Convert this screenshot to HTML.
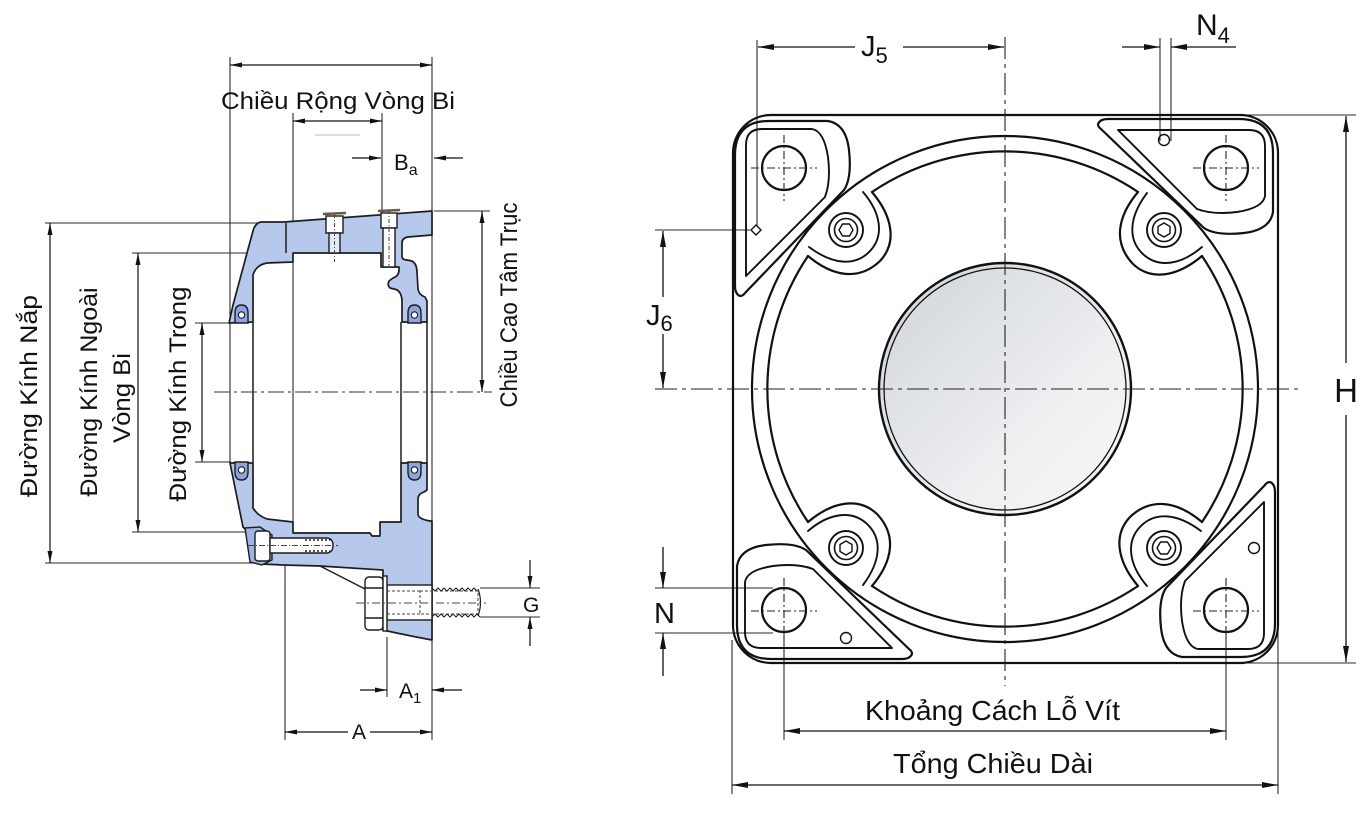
<!DOCTYPE html>
<html><head><meta charset="utf-8"><style>
html,body{margin:0;padding:0;background:#fff}
svg{display:block}
text{font-family:"Liberation Sans","DejaVu Sans",sans-serif;fill:#111}
</style></head><body>
<svg width="1370" height="822" viewBox="0 0 1370 822" xmlns="http://www.w3.org/2000/svg">
<defs>
<marker id="ab" viewBox="0 0 16 6" refX="16" refY="3" markerWidth="16" markerHeight="6" markerUnits="userSpaceOnUse" orient="auto-start-reverse"><path d="M0,0 L16,3 L0,6 Z" fill="#111"/></marker>
<marker id="as" viewBox="0 0 12 5" refX="12" refY="2.5" markerWidth="12" markerHeight="5" markerUnits="userSpaceOnUse" orient="auto-start-reverse"><path d="M0,0 L12,2.5 L0,5 Z" fill="#111"/></marker>
<linearGradient id="bore" x1="0" y1="0" x2="1" y2="1"><stop offset="0" stop-color="#cfd4da"/><stop offset="0.6" stop-color="#eceef0"/><stop offset="1" stop-color="#f7f8f9"/></linearGradient>
</defs>

<!-- ================= LEFT SECTION VIEW ================= -->
<g fill="none" stroke="#2a2a2a" stroke-width="1.1">
  <!-- extension lines -->
  <line x1="230" y1="57" x2="230" y2="463"/>
  <line x1="432" y1="57" x2="432" y2="740"/>
  <line x1="293" y1="113" x2="293" y2="533"/>
  <line x1="382" y1="113" x2="382" y2="213"/>
  <line x1="45" y1="223" x2="259" y2="223"/>
  <line x1="132" y1="253" x2="293" y2="253"/>
  <line x1="195" y1="323" x2="231" y2="323"/>
  <line x1="195" y1="462" x2="231" y2="462"/>
  <line x1="132" y1="532" x2="293" y2="532"/>
  <line x1="45" y1="563" x2="253" y2="563"/>
  <line x1="434" y1="211" x2="490" y2="211"/>
  <line x1="285" y1="566" x2="285" y2="740"/>
  <line x1="387" y1="637" x2="387" y2="697"/>
  <line x1="480" y1="588" x2="540" y2="588"/>
  <line x1="480" y1="617" x2="540" y2="617"/>
  <line x1="315" y1="135" x2="360" y2="135" stroke="#bbb"/>
</g>
<!-- left dimension lines -->
<g stroke="#111" stroke-width="1.2" fill="none">
  <line x1="230" y1="65" x2="432" y2="65" marker-start="url(#as)" marker-end="url(#as)"/>
  <line x1="293" y1="121" x2="382" y2="121" marker-start="url(#as)" marker-end="url(#as)"/>
  <line x1="352" y1="158" x2="381" y2="158" marker-end="url(#as)"/>
  <line x1="463" y1="158" x2="434" y2="158" marker-end="url(#as)"/>
  <line x1="50" y1="223" x2="50" y2="563" marker-start="url(#as)" marker-end="url(#as)"/>
  <line x1="138" y1="253" x2="138" y2="532" marker-start="url(#as)" marker-end="url(#as)"/>
  <line x1="202" y1="323" x2="202" y2="462" marker-start="url(#as)" marker-end="url(#as)"/>
  <line x1="482" y1="211" x2="482" y2="392" marker-start="url(#as)" marker-end="url(#as)"/>
  <line x1="530" y1="560" x2="530" y2="588" marker-end="url(#as)"/>
  <line x1="530" y1="646" x2="530" y2="617" marker-end="url(#as)"/>
  <line x1="360" y1="690" x2="387" y2="690" marker-end="url(#as)"/>
  <line x1="462" y1="690" x2="432" y2="690" marker-end="url(#as)"/>
  <line x1="348" y1="732" x2="285" y2="732" marker-end="url(#as)"/>
  <line x1="370" y1="732" x2="432" y2="732" marker-end="url(#as)"/>
</g>

<!-- housing -->
<g stroke="#1d1d1d" stroke-width="1.7" stroke-linejoin="round">
  <path fill="#b6c8ec" d="M229,323 L233,305 L247,253 L253,231 Q255,223 261,222 L284,222 L432,211 L432,235 L408,237 Q402,238 402,243 L402,256 Q402,260 407,260 L412,261 Q417,264 417,272 L418,289 Q419,295 425,297 L427,301 L427,322 L402,322 L402,300 Q401,290 394,289 L390,288 Q387,285 389,281 L393,278 Q399,276 399,270 L399,267 L381,267 L381,253 L293,253 L293,262 L267,263 Q256,265 253,275 L253,322 Z"/>
  <path fill="#b6c8ec" d="M253,463 L230,463 L243,527 L250,534 L252,559 Q255,564 262,564 L283,565 L320,566 L383,570 L383,630 Q405,635 432,640 L432,521 L430,521 Q418,519 418,514 L418,499 Q418,494 424,492 L427,490 L427,463 L401,463 L401,522 L380,522 L380,536 L372,536 L370,533 L293,533 L293,522 L267,519 Q258,516 253,508 Z"/>
</g>
<g stroke="#1d1d1d" stroke-width="1.5" fill="none">
  <line x1="286" y1="223" x2="286" y2="253"/>
  <line x1="253" y1="322" x2="253" y2="463"/>
  <line x1="401" y1="322" x2="401" y2="463"/>
  <line x1="427" y1="322" x2="427" y2="463"/>
  <line x1="320" y1="566" x2="367" y2="590"/>
</g>
<!-- grease holes -->
<g stroke="#1d1d1d" stroke-width="1.4">
  <rect x="326" y="216" width="17" height="17" fill="#fff"/>
  <rect x="329" y="233" width="11" height="20" fill="#e4eaf7"/>
  <rect x="381" y="213" width="16" height="15" fill="#fff"/>
  <rect x="383" y="228" width="12" height="39" fill="#fff"/>
  <line x1="323" y1="214" x2="346" y2="213" stroke="#6b5a48" stroke-width="2.5"/>
  <line x1="378" y1="211" x2="400" y2="210" stroke="#6b5a48" stroke-width="2.5"/>
</g>
<g stroke="#444" stroke-width="1" stroke-dasharray="4 2 1 2">
  <line x1="334.5" y1="214" x2="334.5" y2="262"/>
  <line x1="389" y1="210" x2="389" y2="270"/>
</g>
<!-- seals -->
<g stroke="#1d1d1d" stroke-width="1.4" fill="#8ca4e0">
  <path d="M235,323 L235,313 Q235,305 241.5,305 Q248,305 248,313 L248,323 Z"/>
  <path d="M408,323 L408,313 Q408,305 414.5,305 Q421,305 421,313 L421,323 Z"/>
  <path d="M235,462 L235,472 Q235,480 241.5,480 Q248,480 248,472 L248,462 Z"/>
  <path d="M408,462 L408,472 Q408,480 414.5,480 Q421,480 421,472 L421,462 Z"/>
</g>
<g fill="#fff" stroke="#1d1d1d" stroke-width="1.1">
  <circle cx="241.5" cy="315" r="3.2"/><circle cx="414.5" cy="315" r="3.2"/>
  <circle cx="241.5" cy="470" r="3.2"/><circle cx="414.5" cy="470" r="3.2"/>
</g>
<!-- cap screw -->
<g stroke="#1d1d1d" stroke-width="1.4">
  <path d="M245,528 L260,527 L272,535 L272,560 L262,565 L250,562 Z" fill="#9fb4e4"/>
  <rect x="255" y="531" width="15" height="30" rx="3" fill="#fff"/>
  <path d="M270,538 L326,538 Q333,538 333,545.5 Q333,553 326,553 L270,553 Z" fill="#fff"/>
  <line x1="305" y1="540" x2="330" y2="540" stroke-dasharray="2 2"/>
  <line x1="305" y1="551" x2="330" y2="551" stroke-dasharray="2 2"/>
</g>
<line x1="248" y1="545.5" x2="338" y2="545.5" stroke="#444" stroke-width="1" stroke-dasharray="6 2 1 2"/>
<!-- foot bolt -->
<g stroke="#1d1d1d" stroke-width="1.4">
  <rect x="387" y="585" width="45" height="35" fill="#fff"/>
  <rect x="365" y="577" width="18" height="53" rx="4" fill="#fff"/>
  <line x1="365" y1="588" x2="383" y2="588"/>
  <line x1="365" y1="618" x2="383" y2="618"/>
  <rect x="383" y="576" width="4" height="55" fill="#fff"/>
  <path d="M432,588 l3,3 l3,-3 l3,3 l3,-3 l3,3 l3,-3 l3,3 l3,-3 l3,3 l3,-3 l3,3 l3,-3 l3,3 l3,-3 l3,3 M432,617 l3,-3 l3,3 l3,-3 l3,3 l3,-3 l3,3 l3,-3 l3,3 l3,-3 l3,3 l3,-3 l3,3 l3,-3 l3,3 l3,-3 l3,3" fill="none" stroke-width="1"/>
  <path d="M478,589 Q483,602.5 478,616" fill="none" stroke-width="1.2"/>
</g>
<g stroke="#444" stroke-width="1" stroke-dasharray="3 2" fill="none">
  <rect x="420" y="591" width="58" height="23"/>
  <line x1="387" y1="591" x2="420" y2="591"/><line x1="387" y1="614" x2="420" y2="614"/>
</g>
<line x1="356" y1="603" x2="486" y2="603" stroke="#444" stroke-width="1" stroke-dasharray="8 3 2 3"/>
<!-- centerline left -->
<line x1="214" y1="392" x2="492" y2="392" stroke="#333" stroke-width="1.1" stroke-dasharray="16 4 3 4"/>

<!-- left labels -->
<text x="221" y="109" font-size="24" textLength="234" lengthAdjust="spacingAndGlyphs">Chiều Rộng Vòng Bi</text>
<text x="394" y="170" font-size="22">B<tspan font-size="16" dy="5">a</tspan></text>
<text transform="translate(37,396) rotate(-90)" text-anchor="middle" font-size="24" textLength="202" lengthAdjust="spacingAndGlyphs">Đường Kính Nắp</text>
<text transform="translate(97,392) rotate(-90)" text-anchor="middle" font-size="24" textLength="209" lengthAdjust="spacingAndGlyphs">Đường Kính Ngoài</text>
<text transform="translate(130,398) rotate(-90)" text-anchor="middle" font-size="24" textLength="90" lengthAdjust="spacingAndGlyphs">Vòng Bi</text>
<text transform="translate(186,394) rotate(-90)" text-anchor="middle" font-size="24" textLength="215" lengthAdjust="spacingAndGlyphs">Đường Kính Trong</text>
<text transform="translate(517,305) rotate(-90)" text-anchor="middle" font-size="24" textLength="205" lengthAdjust="spacingAndGlyphs">Chiều Cao Tâm Trục</text>
<text x="523" y="612" font-size="21">G</text>
<text x="399" y="698" font-size="21">A<tspan font-size="15" dy="5">1</tspan></text>
<text x="352" y="739" font-size="21">A</text>

<!-- ================= RIGHT FRONT VIEW ================= -->
<g fill="none" stroke="#2a2a2a" stroke-width="1.1">
  <line x1="757" y1="40" x2="757" y2="226"/>
  <line x1="655" y1="230" x2="750" y2="230"/>
  <line x1="1160" y1="38" x2="1160" y2="141"/>
  <line x1="1171" y1="38" x2="1171" y2="141"/>
  <line x1="1247" y1="115" x2="1356" y2="115"/>
  <line x1="1247" y1="663" x2="1356" y2="663"/>
  <line x1="655" y1="588" x2="773" y2="588"/>
  <line x1="655" y1="633" x2="773" y2="633"/>
  <line x1="784" y1="633" x2="784" y2="740"/>
  <line x1="1226" y1="633" x2="1226" y2="740"/>
  <line x1="732" y1="640" x2="732" y2="794"/>
  <line x1="1278" y1="630" x2="1278" y2="794"/>
</g>
<g stroke="#111" stroke-width="1.3" fill="none">
  <line x1="855" y1="47" x2="758" y2="47" marker-end="url(#ab)"/>
  <line x1="903" y1="47" x2="1004" y2="47" marker-end="url(#ab)"/>
  <line x1="1122" y1="47" x2="1160" y2="47" marker-end="url(#ab)"/>
  <line x1="1236" y1="47" x2="1171" y2="47" marker-end="url(#ab)"/>
  <line x1="663" y1="297" x2="663" y2="231" marker-end="url(#ab)"/>
  <line x1="663" y1="334" x2="663" y2="388" marker-end="url(#ab)"/>
  <line x1="663" y1="547" x2="663" y2="588" marker-end="url(#ab)"/>
  <line x1="663" y1="676" x2="663" y2="633" marker-end="url(#ab)"/>
  <line x1="1346" y1="363" x2="1346" y2="116" marker-end="url(#ab)"/>
  <line x1="1346" y1="415" x2="1346" y2="662" marker-end="url(#ab)"/>
  <line x1="784" y1="731" x2="1226" y2="731" marker-start="url(#ab)" marker-end="url(#ab)"/>
  <line x1="732" y1="785" x2="1278" y2="785" marker-start="url(#ab)" marker-end="url(#ab)"/>
</g>

<g transform="translate(1005,389)" fill="none" stroke="#111" stroke-width="2.2" stroke-linejoin="round" stroke-linecap="round">
  <rect x="-272" y="-274" width="545" height="548" rx="38"/>
  <circle r="253"/>
  <circle r="126" fill="url(#bore)" stroke-width="2.4"/>
  <circle r="121" stroke-width="1.3"/>

  <g id="k0">
    <path d="M-133,-197 A238,238 0 0 1 133,-197"/>
    <path d="M-133,-197 C-112,-172 -108,-146 -125,-128 C-146,-108 -172,-112 -197,-133"/>
    <path d="M-142,-197 C-124,-176 -121,-154 -134,-139 C-149,-122 -172,-124 -196,-142" stroke-width="1.9"/>
    <circle cx="-159" cy="-159" r="17" stroke-width="1.9"/>
    <circle cx="-159" cy="-159" r="11.5" stroke-width="1.6"/>
    <polygon points="-152,-159 -155.5,-153 -162.5,-153 -166,-159 -162.5,-165 -155.5,-165" stroke-width="1.4"/>
    <path d="M-265,-93 Q-270,-95 -270,-103 L-270,-234 Q-270,-268 -236,-268 L-177,-268 Q-159,-265 -156,-239 Q-153,-211 -161,-199 L-260,-96 Q-262,-93 -265,-93 Z"/>
    <path d="M-259,-113 L-259,-244 Q-259,-260 -243,-260 L-193,-260 Q-181,-258 -177,-232 Q-174,-208 -180,-192 Z" stroke-width="1.9"/>
    <circle cx="-221" cy="-221" r="22"/>
    <path d="M-249,-164 L-244,-159 L-249,-154 L-254,-159 Z" stroke-width="1.4"/>
  </g>
  <g transform="rotate(90)">
    <path d="M-133,-197 A238,238 0 0 1 133,-197"/>
    <path d="M-133,-197 C-112,-172 -108,-146 -125,-128 C-146,-108 -172,-112 -197,-133"/>
    <path d="M-142,-197 C-124,-176 -121,-154 -134,-139 C-149,-122 -172,-124 -196,-142" stroke-width="1.9"/>
    <circle cx="-159" cy="-159" r="17" stroke-width="1.9"/>
    <circle cx="-159" cy="-159" r="11.5" stroke-width="1.6"/>
    <polygon points="-152,-159 -155.5,-153 -162.5,-153 -166,-159 -162.5,-165 -155.5,-165" stroke-width="1.4"/>
    <path d="M-265,-93 Q-270,-95 -270,-103 L-270,-234 Q-270,-268 -236,-268 L-177,-268 Q-159,-265 -156,-239 Q-153,-211 -161,-199 L-260,-96 Q-262,-93 -265,-93 Z"/>
    <path d="M-259,-113 L-259,-244 Q-259,-260 -243,-260 L-193,-260 Q-181,-258 -177,-232 Q-174,-208 -180,-192 Z" stroke-width="1.9"/>
    <circle cx="-221" cy="-221" r="22"/>
    <circle cx="-249" cy="-159" r="5.5" stroke-width="1.4"/>
  </g>
  <g transform="rotate(180)">
    <path d="M-133,-197 A238,238 0 0 1 133,-197"/>
    <path d="M-133,-197 C-112,-172 -108,-146 -125,-128 C-146,-108 -172,-112 -197,-133"/>
    <path d="M-142,-197 C-124,-176 -121,-154 -134,-139 C-149,-122 -172,-124 -196,-142" stroke-width="1.9"/>
    <circle cx="-159" cy="-159" r="17" stroke-width="1.9"/>
    <circle cx="-159" cy="-159" r="11.5" stroke-width="1.6"/>
    <polygon points="-152,-159 -155.5,-153 -162.5,-153 -166,-159 -162.5,-165 -155.5,-165" stroke-width="1.4"/>
    <path d="M-265,-93 Q-270,-95 -270,-103 L-270,-234 Q-270,-268 -236,-268 L-177,-268 Q-159,-265 -156,-239 Q-153,-211 -161,-199 L-260,-96 Q-262,-93 -265,-93 Z"/>
    <path d="M-259,-113 L-259,-244 Q-259,-260 -243,-260 L-193,-260 Q-181,-258 -177,-232 Q-174,-208 -180,-192 Z" stroke-width="1.9"/>
    <circle cx="-221" cy="-221" r="22"/>
    <circle cx="-249" cy="-159" r="5.5" stroke-width="1.4"/>
  </g>
  <g transform="rotate(270)">
    <path d="M-133,-197 A238,238 0 0 1 133,-197"/>
    <path d="M-133,-197 C-112,-172 -108,-146 -125,-128 C-146,-108 -172,-112 -197,-133"/>
    <path d="M-142,-197 C-124,-176 -121,-154 -134,-139 C-149,-122 -172,-124 -196,-142" stroke-width="1.9"/>
    <circle cx="-159" cy="-159" r="17" stroke-width="1.9"/>
    <circle cx="-159" cy="-159" r="11.5" stroke-width="1.6"/>
    <polygon points="-152,-159 -155.5,-153 -162.5,-153 -166,-159 -162.5,-165 -155.5,-165" stroke-width="1.4"/>
    <path d="M-265,-93 Q-270,-95 -270,-103 L-270,-234 Q-270,-268 -236,-268 L-177,-268 Q-159,-265 -156,-239 Q-153,-211 -161,-199 L-260,-96 Q-262,-93 -265,-93 Z"/>
    <path d="M-259,-113 L-259,-244 Q-259,-260 -243,-260 L-193,-260 Q-181,-258 -177,-232 Q-174,-208 -180,-192 Z" stroke-width="1.9"/>
    <circle cx="-221" cy="-221" r="22"/>
    <circle cx="-249" cy="-159" r="5.5" stroke-width="1.4"/>
  </g>
</g>

<!-- bolt hole crosshairs & centerlines -->
<g stroke="#222" stroke-width="1.1" stroke-dasharray="8 3 2 3" fill="none">
  <line x1="751" y1="168" x2="817" y2="168"/><line x1="784" y1="135" x2="784" y2="201"/>
  <line x1="1193" y1="168" x2="1259" y2="168"/><line x1="1226" y1="135" x2="1226" y2="201"/>
  <line x1="751" y1="611" x2="817" y2="611"/><line x1="784" y1="578" x2="784" y2="640"/>
  <line x1="1193" y1="611" x2="1259" y2="611"/><line x1="1226" y1="578" x2="1226" y2="640"/>
  <line x1="655" y1="389" x2="1298" y2="389" stroke-dasharray="22 5 4 5"/>
  <line x1="1005" y1="37" x2="1005" y2="686" stroke-dasharray="22 5 4 5"/>
</g>

<!-- right labels -->
<text x="861" y="56" font-size="29">J<tspan font-size="22" dy="7">5</tspan></text>
<text x="646" y="325" font-size="29">J<tspan font-size="22" dy="6">6</tspan></text>
<text x="1196" y="35" font-size="30">N<tspan font-size="22" dy="8">4</tspan></text>
<text x="1346" y="402" font-size="33" text-anchor="middle">H</text>
<text x="654" y="623" font-size="29">N</text>
<text x="865" y="720" font-size="28" textLength="255" lengthAdjust="spacingAndGlyphs">Khoảng Cách Lỗ Vít</text>
<text x="893" y="773" font-size="28" textLength="200" lengthAdjust="spacingAndGlyphs">Tổng Chiều Dài</text>
</svg>
</body></html>
